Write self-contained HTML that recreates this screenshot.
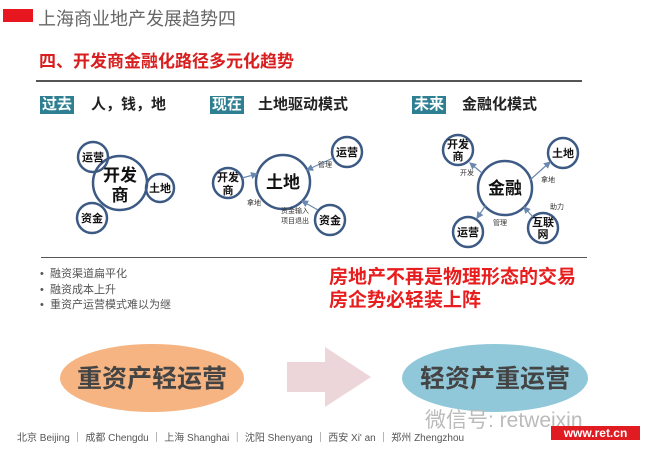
<!DOCTYPE html>
<html><head><meta charset="utf-8"><style>
body{margin:0;width:651px;height:454px;background:#fff;position:relative;overflow:hidden;font-family:"Liberation Sans","Noto Sans CJK SC",sans-serif;}
.a{position:absolute;white-space:nowrap;}
.tag{position:absolute;background:#2e7f91;color:#fff;font-weight:bold;font-size:15px;line-height:18px;padding:0 2px;}
.h{position:absolute;font-weight:bold;font-size:15px;color:#222;line-height:18px;}
</style></head><body>
<div class="a" style="left:3px;top:9px;width:30px;height:13px;background:#e8171f"></div>
<div class="a" style="left:38px;top:5px;font-size:18px;color:#666">上海商业地产发展趋势四</div>
<div class="a" style="left:39px;top:47px;font-size:17px;font-weight:bold;color:#d81e1e">四、开发商金融化路径多元化趋势</div>
<div class="a" style="left:36px;top:80px;width:546px;height:2px;background:#555"></div>
<div class="tag" style="left:40px;top:96px">过去</div><div class="h" style="left:91px;top:96px">人，钱，地</div>
<div class="tag" style="left:210px;top:96px">现在</div><div class="h" style="left:258px;top:96px">土地驱动模式</div>
<div class="tag" style="left:412px;top:96px">未来</div><div class="h" style="left:462px;top:96px">金融化模式</div>

<svg class="a" style="left:0;top:0" width="651" height="454" font-family="Liberation Sans, Noto Sans CJK SC, sans-serif" font-weight="bold" text-anchor="middle">
<defs><marker id="m" markerWidth="6" markerHeight="6" refX="5" refY="3" orient="auto"><path d="M0,0L6,3L0,6z" fill="#6a88b0"/></marker></defs>
<g fill="#fff" stroke="#3c5a84" stroke-width="2.5">
<circle cx="93" cy="157" r="15"/><circle cx="160" cy="188" r="14"/><circle cx="92" cy="218" r="15"/>
<circle cx="120" cy="183" r="27" fill="none"/>
<circle cx="283" cy="182" r="27"/><circle cx="228" cy="183" r="15"/><circle cx="347" cy="152" r="15"/><circle cx="330" cy="220" r="15"/>
<circle cx="505" cy="188" r="27"/><circle cx="458" cy="150" r="15"/><circle cx="563" cy="153" r="15"/><circle cx="468" cy="232" r="15"/><circle cx="543" cy="228" r="15"/>
</g>
<g stroke="#6a88b0" stroke-width="1.2" marker-end="url(#m)">
<line x1="242" y1="178" x2="257" y2="174"/><line x1="333" y1="158" x2="307" y2="170"/><line x1="318" y1="210" x2="302" y2="201"/>
<line x1="482" y1="173" x2="470" y2="163"/><line x1="530" y1="180" x2="550" y2="162"/><line x1="486" y1="205" x2="477" y2="218"/><line x1="533" y1="217" x2="524" y2="207"/>
</g>
<g font-size="11" fill="#111">
<text x="93" y="161">运营</text><text x="160" y="192">土地</text><text x="92" y="222">资金</text>
<text x="228" y="181">开发</text><text x="228" y="194">商</text><text x="347" y="156">运营</text><text x="330" y="224">资金</text>
<text x="458" y="148">开发</text><text x="458" y="160">商</text><text x="563" y="157">土地</text><text x="468" y="236">运营</text><text x="543" y="226">互联</text><text x="543" y="238">网</text>
</g>
<g font-size="17" fill="#111"><text x="120" y="181">开发</text><text x="120" y="201">商</text><text x="283" y="188">土地</text><text x="505" y="194">金融</text></g>
<g font-size="7" fill="#333" font-weight="normal">
<text x="254" y="205">拿地</text><text x="325" y="167">管理</text><text x="295" y="213">资金输入</text><text x="295" y="223">项目退出</text>
<text x="467" y="175">开发</text><text x="548" y="182">拿地</text><text x="557" y="209">助力</text><text x="500" y="225">管理</text>
</g>
</svg>

<div class="a" style="left:41px;top:257px;width:546px;height:1px;background:#555"></div>
<div class="a" style="left:40px;top:267px;font-size:11px;color:#555;line-height:15.5px">•&nbsp;&nbsp;融资渠道扁平化<br>•&nbsp;&nbsp;融资成本上升<br>•&nbsp;&nbsp;重资产运营模式难以为继</div>
<div class="a" style="left:329px;top:266px;font-size:19px;font-weight:bold;color:#e81d1d;line-height:23px">房地产不再是物理形态的交易<br>房企势必轻装上阵</div>

<svg class="a" style="left:0;top:0" width="651" height="454" font-family="Liberation Sans, Noto Sans CJK SC, sans-serif" font-weight="bold" text-anchor="middle">
<ellipse cx="152" cy="378" rx="92" ry="34" fill="#f5b482"/>
<ellipse cx="495" cy="378" rx="93" ry="34" fill="#90c8da"/>
<path d="M287,362H325V347L371,377L325,407V392H287z" fill="#ecd6d9"/>
<text x="152" y="387" font-size="25" fill="#444">重资产轻运营</text>
<text x="495" y="387" font-size="25" fill="#444">轻资产重运营</text>
</svg>
<div class="a" style="left:425px;top:404px;font-size:21px;color:#bbb">微信号: retweixin</div>
<div class="a" style="left:17px;top:429px;font-size:10px;color:#555">北京 Beijing ｜ 成都 Chengdu ｜ 上海 Shanghai ｜ 沈阳 Shenyang ｜ 西安 Xi' an ｜ 郑州 Zhengzhou</div>
<div class="a" style="left:551px;top:426px;width:89px;height:14px;background:#e01b22;color:#fff;font-size:12px;font-weight:bold;text-align:center;line-height:14px">www.ret.cn</div>
</body></html>
